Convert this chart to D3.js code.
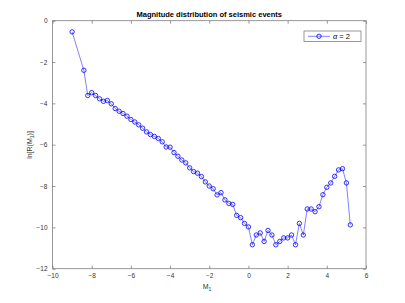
<!DOCTYPE html>
<html>
<head>
<meta charset="utf-8">
<script src="https://cdn.jsdelivr.net/npm/d3@7"></script>
<style>
  body { margin: 0; background: #fff; }
  text { font-family: "Liberation Sans", Arial, sans-serif; }
</style>
</head>
<body>
<svg id="chart" width="405" height="303"></svg>
<script>
// magnitudes (x) and ln R values (y)
var magnitudes = [-9.0, -8.4, -8.2, -8.0, -7.8, -7.6, -7.4, -7.2, -7.0, -6.8, -6.6, -6.4, -6.2, -6.0,
    -5.8, -5.6, -5.4, -5.2, -5.0, -4.8, -4.6, -4.4, -4.2, -4.0, -3.8, -3.6, -3.4, -3.2, -3.0,
    -2.8, -2.6, -2.4, -2.2, -2.0, -1.8, -1.6, -1.4, -1.2, -1.0, -0.8, -0.6, -0.4, -0.2, 0.0,
    0.2, 0.4, 0.6, 0.8, 1.0, 1.2, 1.4, 1.6, 1.8, 2.0, 2.2, 2.4, 2.6, 2.8, 3.0, 3.2, 3.4, 3.6,
    3.8, 4.0, 4.2, 4.4, 4.6, 4.8, 5.0, 5.2];
var lnR = [-0.54, -2.40, -3.62, -3.48, -3.62, -3.78, -3.90, -3.86, -4.02, -4.25, -4.38, -4.49, -4.62, -4.78,
    -4.90, -5.04, -5.20, -5.38, -5.51, -5.60, -5.70, -5.86, -6.11, -6.12, -6.38, -6.56, -6.74, -6.88, -7.12,
    -7.30, -7.38, -7.54, -7.80, -8.00, -8.13, -8.43, -8.32, -8.67, -8.84, -8.89, -9.42, -9.53, -9.81, -9.98,
    -10.84, -10.37, -10.27, -10.68, -10.15, -10.37, -10.84, -10.68, -10.51, -10.51, -10.37, -10.84, -9.81, -10.37,
    -9.11, -9.11, -9.24, -9.00, -8.42, -8.06, -7.85, -7.53, -7.22, -7.16, -7.85, -9.88];
var xTicks = [-10, -8, -6, -4, -2, 0, 2, 4, 6];
var yTicks = [0, -2, -4, -6, -8, -10, -12];

var data = magnitudes.map((m, i) => ({ x: m, y: lnR[i] }));

var svg = d3.select("#chart");
var plotLeft = 52.5, plotRight = 366, plotTop = 20.7, plotBottom = 268.7;

var x = d3.scaleLinear().domain([-10, 6]).range([plotLeft, plotRight]);
var y = d3.scaleLinear().domain([-12, 0]).range([plotBottom, plotTop]);

var axisColor = "#7f7f7f";
var labelColor = "#333";

// frame
svg.append("rect")
    .attr("x", plotLeft).attr("y", plotTop)
    .attr("width", plotRight - plotLeft).attr("height", plotBottom - plotTop)
    .attr("fill", "none").attr("stroke", axisColor).attr("stroke-width", 0.8);

// axes, ticks pointing inward
var g = svg.append("g");
g.append("g").attr("transform", "translate(0," + plotBottom + ")")
    .call(d3.axisBottom(x).tickValues(xTicks).tickSizeInner(-3).tickSizeOuter(0).tickPadding(5));
g.append("g").attr("transform", "translate(0," + plotTop + ")")
    .call(d3.axisTop(x).tickValues(xTicks).tickSizeInner(-3).tickSizeOuter(0).tickFormat(""));
g.append("g").attr("transform", "translate(" + plotLeft + ",0)")
    .call(d3.axisLeft(y).tickValues(yTicks).tickSizeInner(-3).tickSizeOuter(0).tickPadding(5));
g.append("g").attr("transform", "translate(" + plotRight + ",0)")
    .call(d3.axisRight(y).tickValues(yTicks).tickSizeInner(-3).tickSizeOuter(0).tickFormat(""));
g.selectAll(".domain").remove();
g.selectAll(".tick line").attr("stroke", axisColor).attr("stroke-width", 0.8);
g.selectAll(".tick text").attr("fill", labelColor).style("font-size", "6.5px")
    .style("font-family", "'Liberation Sans', Arial, sans-serif");

// line + markers
svg.append("path")
    .datum(data)
    .attr("fill", "none")
    .attr("stroke", "#0000ff")
    .attr("stroke-width", 0.5)
    .attr("d", d3.line().x(d => x(d.x)).y(d => y(d.y)));

svg.append("g").selectAll("circle")
    .data(data)
    .join("circle")
    .attr("cx", d => x(d.x))
    .attr("cy", d => y(d.y))
    .attr("r", 2.2)
    .attr("fill", "none")
    .attr("stroke", "#0000ff")
    .attr("stroke-width", 0.8);

// title
svg.append("text")
    .attr("x", (plotLeft + plotRight) / 2).attr("y", 17)
    .attr("text-anchor", "middle")
    .style("font-size", "7.5px").style("font-weight", "bold")
    .text("Magnitude distribution of seismic events");

// x label
var xl = svg.append("text")
    .attr("x", 207).attr("y", 289)
    .attr("text-anchor", "middle")
    .attr("fill", labelColor)
    .style("font-size", "7px");
xl.append("tspan").text("M");
xl.append("tspan").attr("dy", 2).style("font-size", "5px").text("1");

// y label
var yl = svg.append("text")
    .attr("transform", "translate(32,145) rotate(-90)")
    .attr("text-anchor", "middle")
    .attr("fill", labelColor)
    .style("font-size", "7px");
yl.append("tspan").text("ln[R(M");
yl.append("tspan").attr("dy", 2).style("font-size", "5px").text("1");
yl.append("tspan").attr("dy", -2).text(")]");

// legend
var lg = svg.append("g");
lg.append("rect")
    .attr("x", 304).attr("y", 31).attr("width", 57).attr("height", 10.5)
    .attr("fill", "#fff").attr("stroke", axisColor).attr("stroke-width", 0.8);
lg.append("line")
    .attr("x1", 308).attr("x2", 330).attr("y1", 36.3).attr("y2", 36.3)
    .attr("stroke", "#0000ff").attr("stroke-width", 0.5);
lg.append("circle")
    .attr("cx", 319).attr("cy", 36.3).attr("r", 2.2)
    .attr("fill", "none").attr("stroke", "#0000ff").attr("stroke-width", 0.8);
var lt = lg.append("text")
    .attr("x", 333).attr("y", 39)
    .style("font-size", "7.5px");
lt.append("tspan").style("font-style", "italic").text("\u03b1");
lt.append("tspan").text(" = 2");
</script>
</body>
</html>
